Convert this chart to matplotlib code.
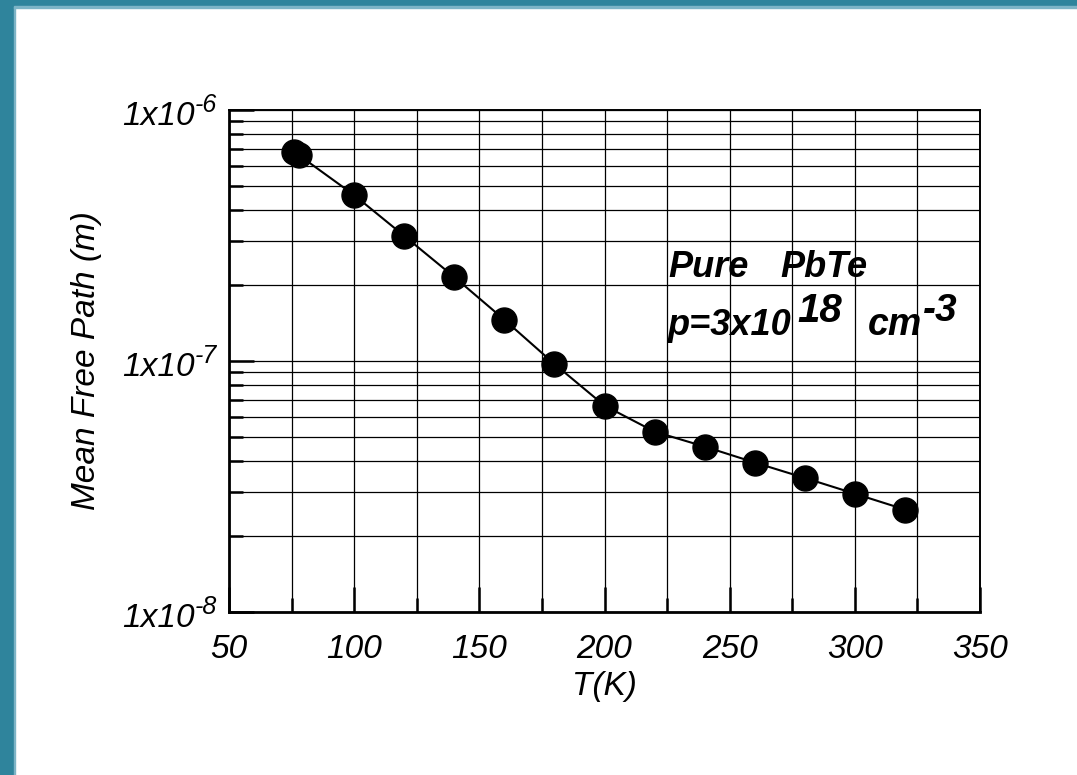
import matplotlib
matplotlib.use("Agg")
import matplotlib.pyplot as plt
from matplotlib.patches import Rectangle
from matplotlib.transforms import IdentityTransform
from matplotlib.ticker import FixedLocator, NullFormatter, LogLocator

plt.rcParams['font.family'] = ['Liberation Sans', 'DejaVu Sans']
plt.rcParams['font.style'] = 'italic'

# Data
temperature = [76, 78, 100, 120, 140, 160, 180, 200, 220, 240, 260, 280, 300, 320]
mean_free_path = [6.8e-7, 6.6e-7, 4.58e-7, 3.15e-7, 2.16e-7, 1.46e-7, 9.73e-8,
                  6.64e-8, 5.23e-8, 4.56e-8, 3.94e-8, 3.42e-8, 2.96e-8, 2.56e-8]
x_ticks = [50, 100, 150, 200, 250, 300, 350]
x_tick_labels = ['50', '100', '150', '200', '250', '300', '350']
y_ticks = [1e-8, 1e-7, 1e-6]
y_tick_mantissa = ['1x10', '1x10', '1x10']
y_tick_exponents = ['-8', '-7', '-6']

W, H = 1077, 775
fig = plt.figure(figsize=(W / 100, H / 100), dpi=100)
fig.patch.set_facecolor('white')

# teal frame (left and top)
teal = '#2F849C'
light = '#7DB4C6'
fig.patches.append(Rectangle((0, 0), 14 / W, 1, transform=fig.transFigure, color=teal, zorder=0))
fig.patches.append(Rectangle((14 / W, 0), 1.5 / W, 1 - 6 / H, transform=fig.transFigure, color=light, zorder=0))
fig.patches.append(Rectangle((0, 1 - 6 / H), 1, 6 / H, transform=fig.transFigure, color=teal, zorder=0))
fig.patches.append(Rectangle((14 / W, 1 - 7.5 / H), 1, 1.5 / H, transform=fig.transFigure, color=light, zorder=0))

left, right, top, bottom = 229, 980, 110, 612
ax = fig.add_axes([left / W, 1 - bottom / H, (right - left) / W, (bottom - top) / H])

ax.plot(temperature, mean_free_path, color='black', lw=1.5, zorder=3)
ax.plot(temperature, mean_free_path, 'o', color='black', markersize=18, zorder=4)

ax.set_yscale('log')
ax.set_xlim(50, 350)
ax.set_ylim(1e-8, 1e-6)

ax.xaxis.set_major_locator(FixedLocator(x_ticks))
ax.set_xticklabels(x_tick_labels)
ax.xaxis.set_minor_locator(FixedLocator([75, 125, 175, 225, 275, 325]))
ax.yaxis.set_major_locator(FixedLocator(y_ticks))
ax.set_yticklabels(['' for _ in y_ticks])
ax.yaxis.set_minor_locator(LogLocator(base=10, subs=range(2, 10)))
ax.yaxis.set_minor_formatter(NullFormatter())

ax.tick_params(axis='both', which='major', direction='in', length=18, width=1.8,
               labelsize=24, top=False, right=False)
ax.tick_params(axis='both', which='minor', direction='in', length=10, width=1.8,
               top=False, right=False)
ax.tick_params(axis='x', which='major', pad=16)

ax.grid(True, which='both', color='black', lw=0.9, zorder=1)
ax.set_axisbelow(True)

for side in ['left', 'bottom']:
    ax.spines[side].set_linewidth(2.0)
for side in ['right', 'top']:
    ax.spines[side].set_linewidth(1.4)

ax.set_xlabel('T(K)', fontsize=24, labelpad=4)
ax.set_ylabel('Mean Free Path (m)', fontsize=24, labelpad=88)

renderer = fig.canvas.get_renderer()
ident = IdentityTransform()


def place_pieces(x_px, base_px, pieces, align='left', weight='normal'):
    """pieces: list of (text, fontsize, raise_px). Pixel coords from top-left."""
    texts = []
    for s, size, _ in pieces:
        t = fig.text(0, 0, s, transform=ident, fontsize=size, fontstyle='italic',
                     fontweight=weight, ha='left', va='baseline')
        texts.append(t)
    widths = [t.get_window_extent(renderer).width for t in texts]
    total = sum(widths)
    x = x_px - total if align == 'right' else x_px
    for t, w, (s, size, rise) in zip(texts, widths, pieces):
        t.set_position((x, H - base_px + rise))
        x += w


def place_at(x_px, base_px, s, size, weight='bold'):
    fig.text(x_px, H - base_px, s, transform=ident, fontsize=size, fontstyle='italic',
             fontweight=weight, ha='left', va='baseline')


# y tick labels
for val, man, ex in zip(y_ticks, y_tick_mantissa, y_tick_exponents):
    disp_y = ax.transData.transform((50, val))[1]
    ypix = H - disp_y
    place_pieces(217, ypix + 15, [(man, 24, 0), (ex, 18, 13)], align='right')

# annotation
place_at(668, 277, 'Pure', 26)
place_at(780, 277, 'PbTe', 26)
place_at(668, 335, 'p=3x10', 26)
place_at(797, 322, '18', 29)
place_at(868, 335, 'cm', 27)
place_at(923, 321, '-3', 28)

fig.savefig('out.png', dpi=100)
